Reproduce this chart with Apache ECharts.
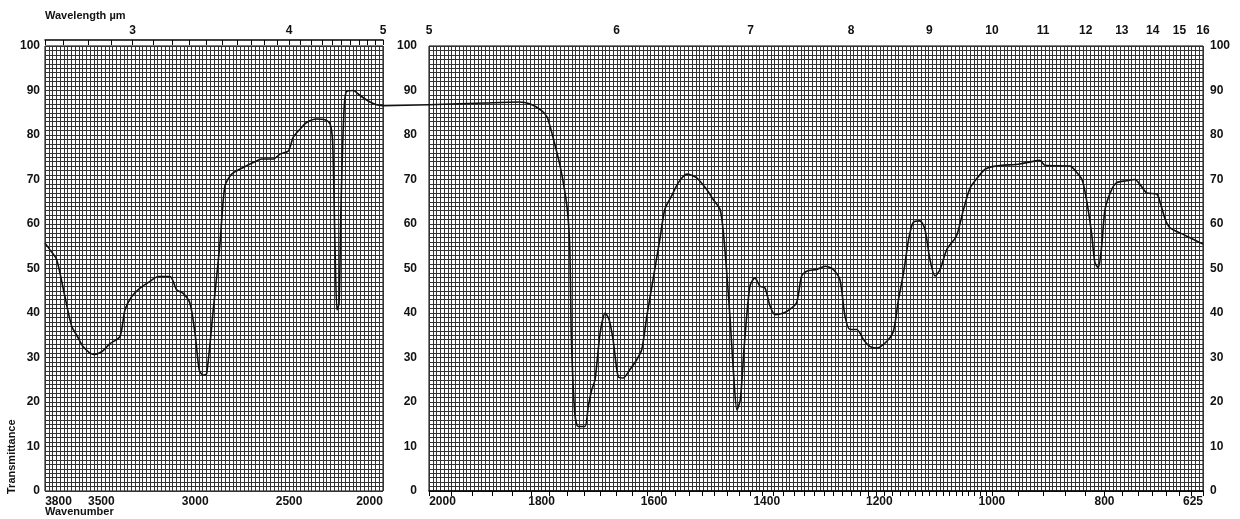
<!DOCTYPE html>
<html>
<head>
<meta charset="utf-8">
<script src="https://cdn.jsdelivr.net/npm/echarts@6/dist/echarts.min.js"></script>
<style>
html,body{margin:0;padding:0;background:#fff;}
#chart{width:1240px;height:519px;}
</style>
</head>
<body>
<div id="chart"></div>
<script>
// ---- data (wavenumber in cm-1, transmittance in %) ----
const leftWavenumbers = [3800,3770,3738,3694,3658,3631,3596,3543,3498,3454,3401,3374,3338,3294,3241,3197,3134,3099,3064,3028,3001,2978,2956,2939,2904,2868,2842,2806,2744,2691,2646,2584,2549,2504,2478,2442,2407,2353,2309,2282,2268,2256,2245,2234,2224,2211,2197,2158,2123,2069,2034,2000];
const leftTransmittance = [55.7,54.0,52.0,43.7,37.0,35.0,32.4,30.7,31.3,33.1,34.7,40.7,43.7,45.6,47.1,48.2,48.2,45.2,44.4,42.2,35.4,27.1,26.0,26.4,40.7,55.7,68.5,71.2,72.7,73.8,74.6,74.6,75.7,76.4,79.5,81.3,82.8,83.6,83.4,82.5,78.3,55.7,40.7,42.2,63.3,82.1,89.6,90.0,88.9,87.4,86.8,86.6];

const rightWavenumbers = [2000,1900,1840,1821,1800,1790,1779,1767,1755,1750,1747,1741,1735,1723,1717,1711,1705,1696,1687,1680,1673,1664,1655,1643,1631,1622,1613,1602,1590,1581,1569,1557,1542,1525,1507,1495,1483,1477,1471,1465,1459,1453,1447,1440,1430,1421,1412,1403,1394,1385,1370,1359,1347,1338,1329,1311,1296,1282,1270,1261,1252,1240,1228,1217,1205,1187,1175,1166,1157,1148,1140,1128,1119,1110,1101,1092,1080,1063,1051,1039,1025,1012,994,950,915,906,861,852,840,832,823,817,811,805,799,787,778,761,746,737,725,707,701,692,684,666,648,630,625];
const rightTransmittance = [86.8,87.2,87.4,87.0,85.5,84.0,79.1,73.0,64.0,55.0,34.0,17.5,14.5,14.5,19.0,22.7,25.0,35.5,40.0,38.5,34.0,25.7,25.4,27.3,29.5,31.8,39.3,47.5,56.5,63.3,66.3,69.3,71.2,70.4,67.8,65.5,63.3,58.0,49.0,38.5,26.5,18.2,20.5,32.5,46.0,47.9,46.0,45.6,41.5,39.6,40.0,40.8,42.3,48.3,49.4,49.8,50.5,49.8,47.5,39.3,36.3,36.3,34.0,32.5,32.1,33.6,35.9,43.0,49.0,56.5,60.3,60.7,58.8,52.0,48.3,49.8,54.3,57.3,63.0,68.0,70.5,72.3,73.0,73.5,74.3,73.2,73.0,72.0,70.0,65.5,58.0,51.3,50.2,55.0,63.3,67.8,69.3,69.7,70.0,68.9,67.0,66.7,64.8,61.0,59.2,58.0,56.9,55.8,55.5];

// trace crossing the gap between the two panels
const bridgeTransmittance = [86.6, 86.8];

// tick labels
const leftWavenumberLabels = [3800, 3500, 3000, 2500, 2000];
const rightWavenumberLabels = [2000, 1800, 1600, 1400, 1200, 1000, 800, 625];
const leftWavelengthLabels = [3, 4, 5];
const rightWavelengthLabels = [5, 6, 7, 8, 9, 10, 11, 12, 13, 14, 15, 16];
const transmittanceLabels = [0, 10, 20, 30, 40, 50, 60, 70, 80, 90, 100];

// wavelength ruler tick marks (µm)
function range(a, b, s) { const r = []; for (let v = a; v <= b + 1e-9; v += s) r.push(Math.round(v * 100) / 100); return r; }
const leftRulerMicrons = range(2.7, 5.0, 0.1);
const rightRulerMicrons = range(5.0, 10.0, 0.1).concat(range(10.5, 16, 0.5));

const toWn = um => 10000 / um;
const pairs = (xs, ys) => xs.map((x, i) => [x, ys[i]]);

const FONT = 'Liberation Sans';
const labelStyle = { color: '#111', fontFamily: FONT, fontSize: 12, fontWeight: 'bold' };
const gridLine = { color: '#333', width: 1 };

// bottom labels: first label flush left inside panel, last flush right
function makeEdgeLabel(labels, margin) {
  const first = labels[0], last = labels[labels.length - 1];
  const rs = pad => ({ fontFamily: FONT, fontSize: 12, fontWeight: 'bold', color: '#111', padding: pad });
  return Object.assign({
    customValues: labels, margin: margin, showMinLabel: true, showMaxLabel: true,
    formatter: v => {
      if (v === first) return '{l' + String(v).length + '|' + v + '}';
      if (v === last) return '{r' + String(v).length + '|' + v + '}';
      return String(v);
    },
    rich: {
      l3: rs([0, 0, 0, 20]), l4: rs([0, 0, 0, 27]),
      r3: rs([0, 20, 0, 0]), r4: rs([0, 27, 0, 0])
    }
  }, labelStyle);
}

const chart = echarts.init(document.getElementById('chart'), null, { renderer: 'canvas' });

const TOP = 46, H = 445;

chart.setOption({
  animation: false,
  backgroundColor: '#fff',
  grid: [
    { left: 45, top: TOP, width: 338, height: H, show: true, borderColor: '#000', borderWidth: 1, backgroundColor: 'transparent' },
    { left: 429, top: TOP, width: 774, height: H, show: true, borderColor: '#000', borderWidth: 1, backgroundColor: 'transparent' },
    { left: 383, top: TOP, width: 46, height: H, show: false }
  ],
  xAxis: [
    // 0: left panel wavenumber axis
    { type: 'value', gridIndex: 0, min: 2000, max: 3800, inverse: true, interval: 20, position: 'bottom',
      axisLine: { show: false }, axisTick: { show: false },
      splitLine: { show: true, lineStyle: gridLine },
      axisLabel: makeEdgeLabel(leftWavenumberLabels, 5) },
    // 1: left panel wavelength ruler
    { type: 'value', gridIndex: 0, min: 2000, max: 3800, inverse: true, position: 'top', offset: 6,
      axisLine: { show: true, lineStyle: { color: '#000', width: 1.5 } },
      axisTick: { show: true, inside: true, length: 5, customValues: leftRulerMicrons.map(toWn).concat([3800, 2000]), lineStyle: { color: '#000', width: 1 } },
      splitLine: { show: false },
      axisLabel: Object.assign({ customValues: leftWavelengthLabels.map(toWn), margin: 3, showMinLabel: true, showMaxLabel: true, formatter: v => String(Math.round(10000 / v)) }, labelStyle) },
    // 2: right panel wavenumber axis
    { type: 'value', gridIndex: 1, min: 625, max: 2000, inverse: true, position: 'bottom',
      axisLine: { show: false }, axisTick: { show: false }, splitLine: { show: false },
      axisLabel: makeEdgeLabel(rightWavenumberLabels, 5) },
    // 3: right panel wavelength ruler
    { type: 'value', gridIndex: 1, min: 625, max: 2000, inverse: true, position: 'top', offset: 6,
      axisLine: { show: true, lineStyle: { color: '#000', width: 1.5 } },
      axisTick: { show: true, inside: true, length: 5, customValues: rightRulerMicrons.map(toWn).concat([2000, 625]), lineStyle: { color: '#000', width: 1 } },
      splitLine: { show: false },
      axisLabel: Object.assign({ customValues: rightWavelengthLabels.map(toWn), margin: 3, showMinLabel: true, showMaxLabel: true, formatter: v => String(Math.round(10000 / v)) }, labelStyle) },
    // 4: right panel chart-paper ruling (uniform divisions)
    { type: 'value', gridIndex: 1, min: 0, max: 206, interval: 1, position: 'bottom',
      axisLine: { show: false }, axisTick: { show: false }, axisLabel: { show: false },
      splitLine: { show: true, lineStyle: gridLine } },
    // 5: bridge between panels
    { type: 'value', gridIndex: 2, min: 0, max: 1, show: false }
  ],
  yAxis: [
    { type: 'value', gridIndex: 0, min: 0, max: 100, interval: 10, position: 'left',
      axisLine: { show: false }, axisTick: { show: false },
      axisLabel: Object.assign({ customValues: transmittanceLabels, margin: 5 }, labelStyle),
      splitLine: { show: true, lineStyle: gridLine },
      minorTick: { show: false, splitNumber: 10 },
      minorSplitLine: { show: true, lineStyle: gridLine } },
    { type: 'value', gridIndex: 1, min: 0, max: 100, interval: 10, position: 'left',
      axisLine: { show: false }, axisTick: { show: false },
      axisLabel: Object.assign({ customValues: transmittanceLabels, margin: 12 }, labelStyle),
      splitLine: { show: true, lineStyle: gridLine },
      minorTick: { show: false, splitNumber: 10 },
      minorSplitLine: { show: true, lineStyle: gridLine } },
    { type: 'value', gridIndex: 1, min: 0, max: 100, interval: 10, position: 'right',
      axisLine: { show: false }, axisTick: { show: false }, splitLine: { show: false },
      axisLabel: Object.assign({ customValues: transmittanceLabels, margin: 7 }, labelStyle) },
    { type: 'value', gridIndex: 2, min: 0, max: 100, show: false }
  ],
  series: [
    { type: 'line', xAxisIndex: 0, yAxisIndex: 0, data: pairs(leftWavenumbers, leftTransmittance),
      showSymbol: false, smooth: 0.25, lineStyle: { color: '#111', width: 1.6 }, z: 5 },
    { type: 'line', xAxisIndex: 2, yAxisIndex: 1, data: pairs(rightWavenumbers, rightTransmittance),
      showSymbol: false, smooth: 0.25, lineStyle: { color: '#111', width: 1.6 }, z: 5 },
    { type: 'line', xAxisIndex: 5, yAxisIndex: 3, data: pairs([0, 1], bridgeTransmittance),
      showSymbol: false, lineStyle: { color: '#111', width: 1.6 }, z: 5 }
  ],
  graphic: [
    { type: 'text', left: 45, top: 10, style: { text: 'Wavelength µm', font: 'bold 11px "Liberation Sans"', fill: '#111' } },
    { type: 'text', x: 12, y: 494, rotation: Math.PI / 2, style: { text: 'Transmittance', font: 'bold 11px "Liberation Sans"', fill: '#111', align: 'left', verticalAlign: 'middle' } },
    { type: 'text', left: 45, top: 506, style: { text: 'Wavenumber', font: 'bold 11px "Liberation Sans"', fill: '#111' } }
  ]
});
</script>
</body>
</html>
